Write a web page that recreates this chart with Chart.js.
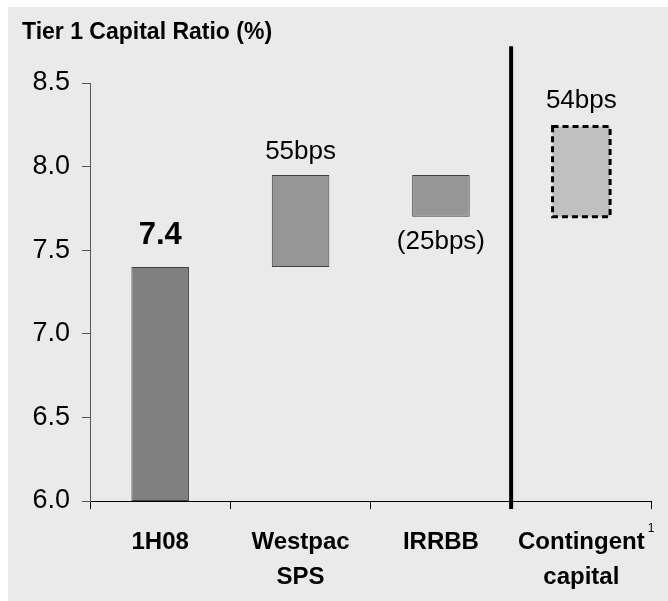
<!DOCTYPE html>
<html>
<head>
<meta charset="utf-8">
<script src="https://cdn.jsdelivr.net/npm/chart.js@4/dist/chart.umd.min.js"></script>
<style>
  html, body { margin: 0; padding: 0; background: #ffffff; }
  #panel { position: absolute; left: 8px; top: 7px; width: 660px; height: 594px; background: #eaeaea; }
  canvas { display: block; }
</style>
</head>
<body>
<div id="panel"><canvas id="chart" width="660" height="594"></canvas></div>
<script>
// Tier 1 capital walk: starting ratio, then step changes in basis points
const categories = ['1H08', ['Westpac', 'SPS'], 'IRRBB', ['Contingent', 'capital']];
const startRatio = 7.4;
const stepChangesBps = [55, -25, 54];
const yTicks = [6.0, 6.5, 7.0, 7.5, 8.0, 8.5];
const barColors = ['#808080', '#969696', '#969696', '#c0c0c0'];
const titleText = 'Tier 1 Capital Ratio (%)';
const footnoteMark = '1';

const FONT = "'Liberation Sans', Arial, Helvetica, sans-serif";

// Build floating bars: first bar rises from the axis floor, the SPS and IRRBB
// steps chain on from it, and contingent capital starts at the post-IRRBB level.
const bars = [[yTicks[0], startRatio]];
let level = startRatio;
stepChangesBps.forEach((bps) => {
  const next = Math.round((level + bps / 100) * 100) / 100;
  bars.push([Math.min(level, next), Math.max(level, next)]);
  // contingent capital is shown on top of the IRRBB outcome, not chained further
  if (bps < 0 || bars.length < 3) level = next;
});
const labels = [startRatio.toFixed(1)].concat(
  stepChangesBps.map((b) => (b < 0 ? '(' + Math.abs(b) + 'bps)' : b + 'bps'))
);

const overlay = {
  id: 'overlay',
  afterDatasetsDraw(chart) {
    const ctx = chart.ctx;
    const meta = chart.getDatasetMeta(0);
    const xs = chart.scales.x, ys = chart.scales.y;
    const area = chart.chartArea;

    // dashed outline for the contingent capital bar
    const last = meta.data[3].getProps(['x', 'y', 'base', 'width'], true);
    const lt = Math.min(last.y, last.base), lb = Math.max(last.y, last.base);
    ctx.save();
    ctx.setLineDash([6, 4]);
    ctx.lineWidth = 3;
    ctx.strokeStyle = '#000';
    ctx.strokeRect(last.x - last.width / 2, lt, last.width, lb - lt);
    ctx.restore();

    // divider between actual movements and contingent capital
    const divX = (xs.getPixelForValue(2) + xs.getPixelForValue(3)) / 2;
    ctx.save();
    ctx.strokeStyle = '#000';
    ctx.lineWidth = 4;
    ctx.beginPath();
    ctx.moveTo(divX, ys.getPixelForValue(8.72));
    ctx.lineTo(divX, area.bottom + 8);
    ctx.stroke();
    ctx.restore();

    // value labels
    ctx.save();
    ctx.fillStyle = '#000';
    ctx.textAlign = 'center';
    ctx.textBaseline = 'alphabetic';
    meta.data.forEach((el, i) => {
      const p = el.getProps(['x', 'y', 'base'], true);
      const top = Math.min(p.y, p.base), bottom = Math.max(p.y, p.base);
      if (i === 0) {
        ctx.font = 'bold 31px ' + FONT;
        ctx.fillText(labels[i], p.x, top - 23);
      } else if (stepChangesBps[i - 1] < 0) {
        ctx.font = '26px ' + FONT;
        ctx.fillText(labels[i], p.x, bottom + 32);
      } else {
        ctx.font = '26px ' + FONT;
        ctx.fillText(labels[i], p.x, top - (i === 3 ? 18 : 16));
      }
    });

    // chart title
    ctx.font = 'bold 23px ' + FONT;
    ctx.textAlign = 'left';
    ctx.fillText(titleText, 14, 32);

    // footnote marker on the contingent capital label
    ctx.font = 'bold 24px ' + FONT;
    const w = ctx.measureText('Contingent').width;
    ctx.font = '12px ' + FONT;
    ctx.fillText(footnoteMark, xs.getPixelForValue(3) + w / 2 + 3, area.bottom + 31);
    ctx.restore();
  }
};

new Chart(document.getElementById('chart'), {
  type: 'bar',
  data: {
    labels: categories,
    datasets: [{
      data: bars,
      backgroundColor: barColors,
      borderColor: ['#404040', '#404040', '#404040', 'rgba(0,0,0,0)'],
      borderWidth: [1, 1, 1, 0],
      borderSkipped: false,
      categoryPercentage: 1,
      barPercentage: 0.41
    }]
  },
  options: {
    responsive: false,
    animation: false,
    devicePixelRatio: 1,
    layout: { padding: { top: 76, right: 16.5, left: 0, bottom: 0 } },
    plugins: { legend: { display: false }, tooltip: { enabled: false }, title: { display: false } },
    scales: {
      x: {
        grid: { offset: true, drawOnChartArea: false, drawTicks: true, tickLength: 8, color: '#000', lineWidth: 1 },
        border: { color: '#000', width: 1 },
        ticks: {
          color: '#000', padding: 16, maxRotation: 0, autoSkip: false,
          font: { family: FONT, size: 24, weight: 'bold', lineHeight: 35 / 24 }
        },
        afterFit(s) { s.height = 100; }
      },
      y: {
        min: yTicks[0],
        max: yTicks[yTicks.length - 1],
        afterBuildTicks(s) { s.ticks = yTicks.map((v) => ({ value: v })); },
        grid: { drawOnChartArea: false, drawTicks: true, tickLength: 8, color: '#555' },
        border: { color: '#555', width: 1 },
        ticks: {
          color: '#000', padding: 12,
          callback: (v) => Number(v).toFixed(1),
          font: { family: FONT, size: 27 }
        },
        afterFit(s) { s.width = 82; }
      }
    }
  },
  plugins: [overlay]
});
</script>
</body>
</html>
